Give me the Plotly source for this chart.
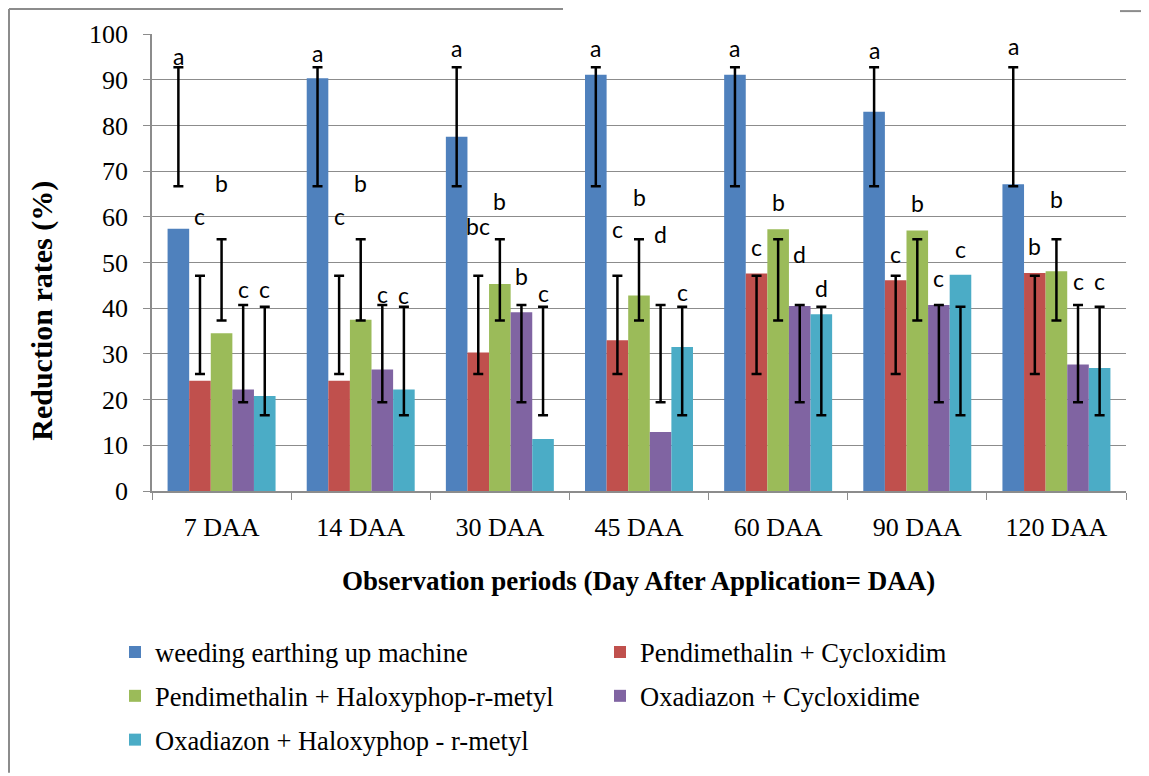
import plotly.graph_objects as go

categories = ["7 DAA", "14 DAA", "30 DAA", "45 DAA", "60 DAA", "90 DAA", "120 DAA"]
series_names = [
    "weeding earthing up machine",
    "Pendimethalin + Cycloxidim",
    "Pendimethalin + Haloxyphop-r-metyl",
    "Oxadiazon + Cycloxidime",
    "Oxadiazon + Haloxyphop - r-metyl",
]
weeding = [57.4, 90.3, 77.5, 91.1, 91.1, 83.0, 67.1]
pendi_cyclo = [24.1, 24.1, 30.3, 33.0, 47.6, 46.1, 47.7]
pendi_halo = [34.5, 37.5, 45.3, 42.8, 57.3, 57.0, 48.1]
oxa_cyclo = [22.2, 26.6, 39.1, 12.9, 40.5, 40.7, 27.7]
oxa_halo = [20.8, 22.2, 11.4, 31.5, 38.7, 47.3, 26.9]
values = [weeding, pendi_cyclo, pendi_halo, oxa_cyclo, oxa_halo]

# error bar extents (low, high) per series, same in every period
err_low = [66.7, 25.6, 37.3, 19.4, 16.6]
err_high = [92.7, 47.1, 55.1, 40.7, 40.3]

# significance letters and the height at which they are printed
letters = [
    ["a", "a", "a", "a", "a", "a", "a"],
    ["c", "c", "bc", "c", "c", "c", "b"],
    ["b", "b", "b", "b", "b", "b", "b"],
    ["c", "c", "b", "d", "d", "c", "c"],
    ["c", "c", "c", "c", "d", "c", "c"],
]
letter_y = [
    [95.2, 95.9, 96.9, 96.9, 96.9, 96.4, 97.4],
    [60.2, 60.2, 57.9, 57.3, 53.3, 51.9, 53.7],
    [67.5, 67.5, 63.5, 64.3, 63.3, 63.0, 63.8],
    [44.2, 43.1, 47.1, 56.2, 51.9, 46.6, 46.0],
    [44.2, 42.9, 43.4, 43.5, 44.4, 52.9, 46.0],
]

colors = ["#4F81BD", "#C0504D", "#9BBB59", "#8064A2", "#4BACC6"]
legend_ids = ["legend", "legend", "legend2", "legend2", "legend3"]

BARGAP = 0.224
n = len(values)
bw = (1 - BARGAP) / n

fig = go.Figure()
for j, (name, vals) in enumerate(zip(series_names, values)):
    plus = [err_high[j] - v for v in vals]
    minus = [v - err_low[j] for v in vals]
    fig.add_trace(go.Bar(
        x=categories, y=vals, name=name,
        marker=dict(color=colors[j], line=dict(width=0)),
        legend=legend_ids[j],
        error_y=dict(type="data", symmetric=False, array=plus, arrayminus=minus,
                     color="black", thickness=2.5, width=5),
    ))

annotations = []
for j in range(n):
    off = (j - (n - 1) / 2) * bw
    for i in range(len(categories)):
        annotations.append(dict(
            x=i + off, y=letter_y[j][i], xref="x", yref="y",
            text=letters[j][i], showarrow=False,
            font=dict(family="Lato, Open Sans, sans-serif", size=23, color="black"),
        ))

# page body has an 8px margin; work in reference-pixel coordinates
OFF = 8
W0, Y0 = 152, 493          # plot-area left / bottom in reference pixels
PW, PH = 974, 459          # plot-area size
FW, FH = 1149 - OFF, 776 - OFF


def px(x):
    return (x - W0) / PW


def py(y):
    return (Y0 - y) / PH


SERIF = "Liberation Serif"
annotations.append(dict(
    x=px(42), y=py(312), xref="paper", yref="paper", xanchor="center", yanchor="middle",
    text="<b>Reduction rates (%)</b>", textangle=-90, showarrow=False,
    font=dict(family=SERIF, size=30, color="black"),
))
annotations.append(dict(
    x=px(638), y=py(583), xref="paper", yref="paper", xanchor="center", yanchor="middle",
    text="<b>Observation periods (Day After Application= DAA)</b>",
    showarrow=False, font=dict(family=SERIF, size=27, color="black"),
))

border = dict(color="#8c8c8c", width=2)
shapes = [
    dict(type="line", xref="paper", yref="paper", x0=px(9), x1=px(563), y0=py(9), y1=py(9), line=border),
    dict(type="line", xref="paper", yref="paper", x0=px(1120), x1=px(1149), y0=py(11), y1=py(11), line=border),
    dict(type="line", xref="paper", yref="paper", x0=px(9), x1=px(9), y0=py(9), y1=py(776), line=border),
]

leg_common = dict(orientation="h", xanchor="left", yanchor="middle",
                  font=dict(family=SERIF, size=26.5, color="black"),
                  entrywidth=440, itemwidth=30, bgcolor="rgba(0,0,0,0)")

fig.update_layout(
    width=FW, height=FH,
    margin=dict(l=W0 - OFF, r=FW - (W0 - OFF + PW), t=Y0 - PH - OFF, b=FH - (Y0 - OFF)),
    paper_bgcolor="white", plot_bgcolor="white",
    barmode="group", bargap=BARGAP, bargroupgap=0,
    xaxis=dict(
        type="category", tickson="boundaries", ticks="outside", ticklen=7,
        tickcolor="#8c8c8c", showline=True, linecolor="#8c8c8c", linewidth=1.5,
        showgrid=False, ticklabelstandoff=12,
        tickfont=dict(family=SERIF, size=26, color="black"),
    ),
    yaxis=dict(
        range=[0, 100], dtick=10, ticks="outside", ticklen=7, tickcolor="#8c8c8c",
        showline=True, linecolor="#8c8c8c", linewidth=1.5,
        showgrid=True, gridcolor="#8c8c8c", gridwidth=1.3, zeroline=False,
        ticklabelstandoff=10,
        tickfont=dict(family=SERIF, size=26, color="black"),
    ),
    legend=dict(x=px(115), y=py(655), **leg_common),
    legend2=dict(x=px(115), y=py(699), **leg_common),
    legend3=dict(x=px(115), y=py(743), **leg_common),
    annotations=annotations,
    shapes=shapes,
)

fig.write_html("out.html")
